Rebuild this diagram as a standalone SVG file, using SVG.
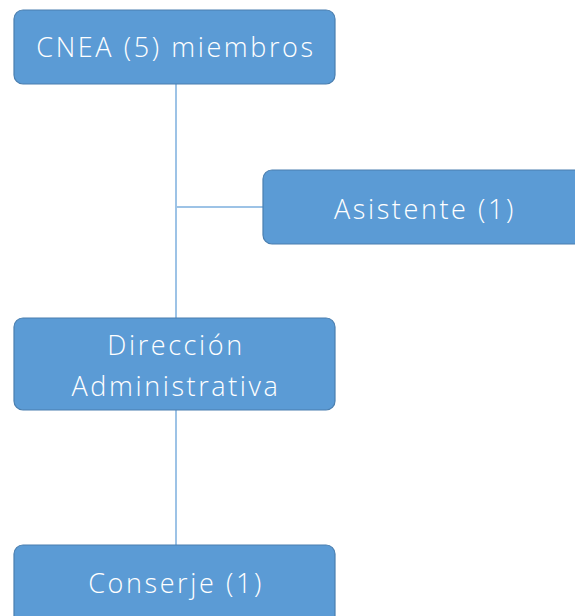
<svg xmlns="http://www.w3.org/2000/svg" width="575" height="616" viewBox="0 0 575 616">
<style>
.box{fill:#5B9BD5;stroke:#4A7FB0;stroke-width:1.2}
.lbl{font-family:"Open Sans","Liberation Sans",sans-serif;font-weight:300;font-size:27px;letter-spacing:2.6px;fill:#FFFFFF;text-anchor:middle}
.con{stroke:#9DC3E6;stroke-width:2;fill:none}
</style>
<rect width="575" height="616" fill="#FFFFFF"/>
<g id="connectors">
<line class="con" x1="176" y1="84" x2="176" y2="318"/>
<line class="con" x1="176" y1="207" x2="263" y2="207"/>
<line class="con" x1="176" y1="410" x2="176" y2="545"/>
</g>
<g id="cnea">
<rect class="box" x="14" y="10" width="321" height="74" rx="9"/>
<text class="lbl" x="176" y="57">CNEA (5) miembros</text>
</g>
<g id="asistente">
<rect class="box" x="263" y="170" width="321" height="74" rx="9"/>
<text class="lbl" x="425" y="219">Asistente  (1)</text>
</g>
<g id="direccion">
<rect class="box" x="14" y="318" width="321" height="92" rx="9"/>
<text class="lbl" x="176" y="355">Dirección</text>
<text class="lbl" x="176" y="396">Administrativa</text>
</g>
<g id="conserje">
<rect class="box" x="14" y="545" width="321" height="80" rx="9"/>
<text class="lbl" x="176" y="593">Conserje (1)</text>
</g>
</svg>
